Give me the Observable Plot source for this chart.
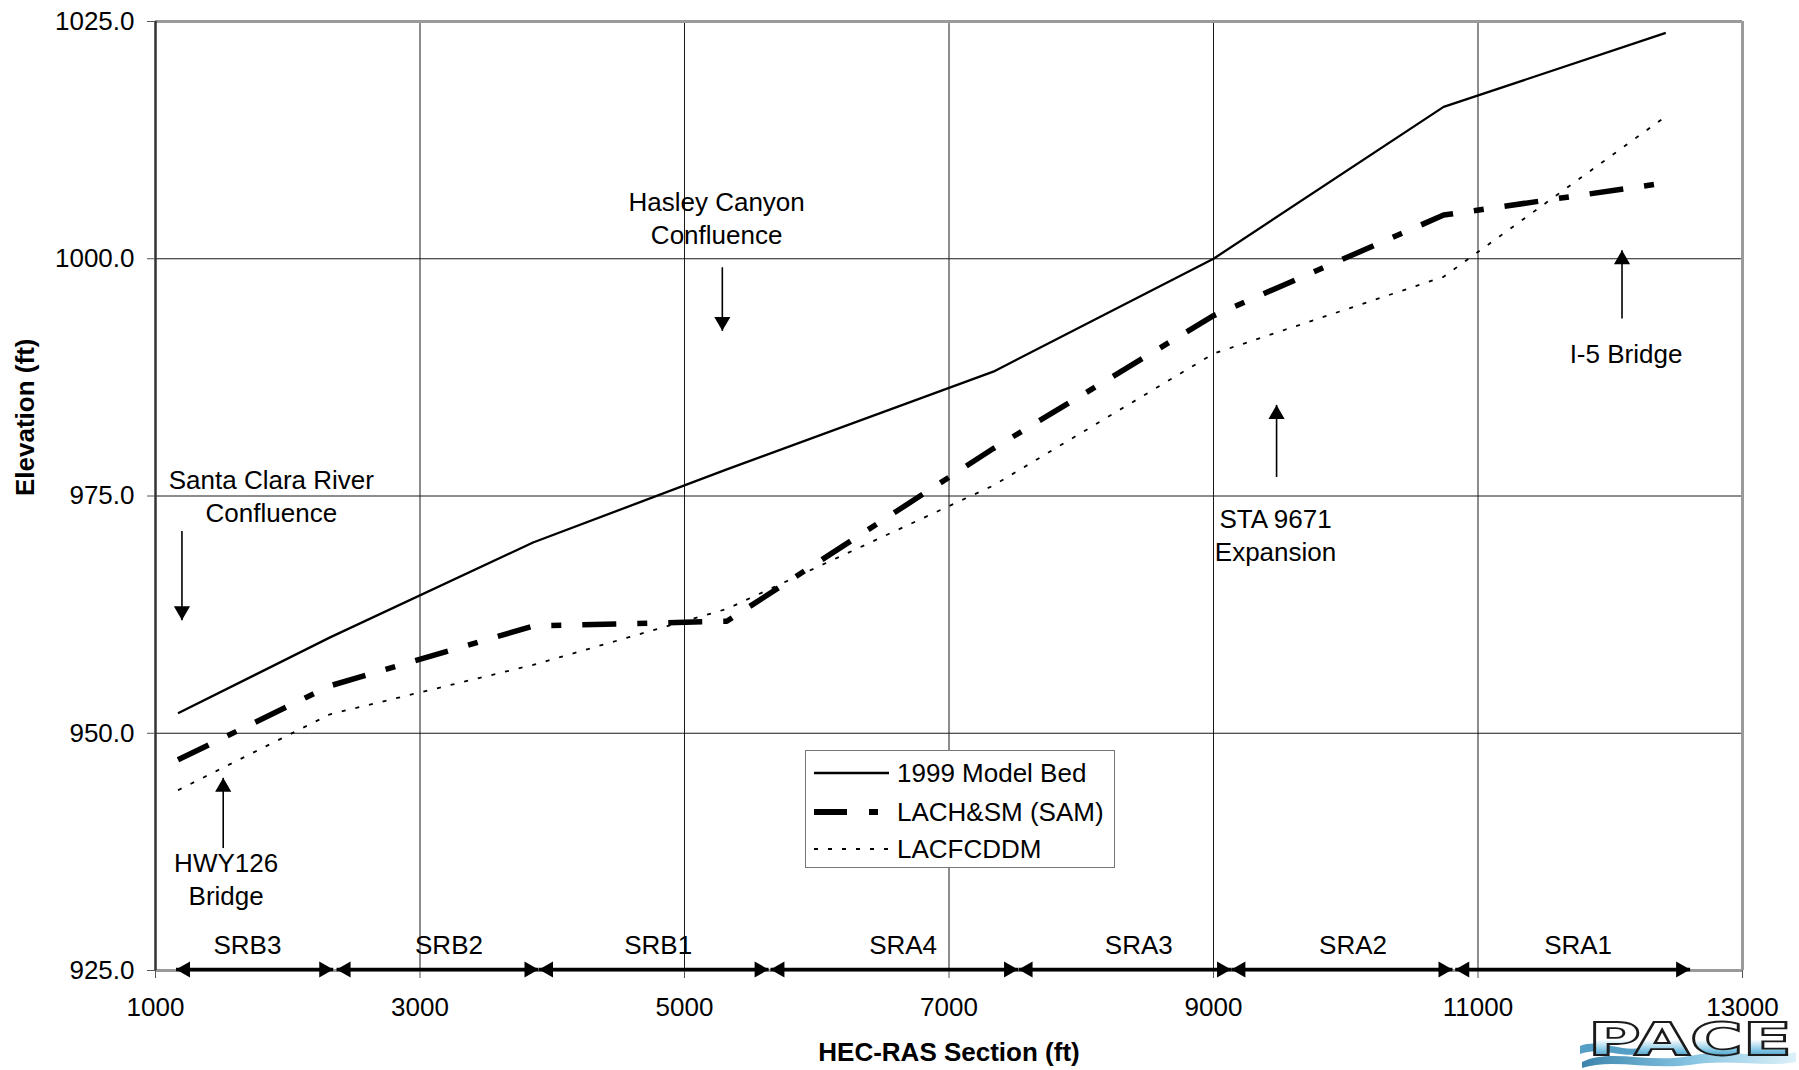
<!DOCTYPE html>
<html>
<head>
<meta charset="utf-8">
<script src="https://cdn.jsdelivr.net/npm/d3@7"></script>
<script src="https://cdn.jsdelivr.net/npm/@observablehq/plot@0.6"></script>
<style>
  html, body { margin: 0; padding: 0; background: #fff; overflow: hidden; }
  #wrap { position: relative; width: 1799px; height: 1070px; font-family: "Liberation Sans", Arial, sans-serif; }
  #legend { position: absolute; left: 805px; top: 750px; width: 308px; height: 116px; border: 1.5px solid #777; background: #fff; }
  #logo { position: absolute; left: 1578px; top: 1012px; width: 220px; height: 58px; }
</style>
</head>
<body>
<div id="wrap">
  <div id="chart"></div>
  <div id="legend"></div>
  <div id="logo"></div>
</div>
<script>
// ---------------- Data ----------------
const stations      = [1170, 2320, 3855, 5320, 7335, 9000, 10740, 12420];
const modelBed1999  = [952.1, 960.1, 970.1, 977.8, 988.1, 1000.0, 1016.0, 1023.8];
const lachsmSAM     = [947.2, 955.0, 961.3, 961.8, 980.0, 994.0, 1004.6, 1008.0];
const lacfcddm      = [944.0, 952.0, 957.2, 963.1, 976.1, 990.0, 998.1, 1015.0];
const seriesNames   = ["1999 Model Bed", "LACH&SM (SAM)", "LACFCDDM"];

const sections      = ["SRB3", "SRB2", "SRB1", "SRA4", "SRA3", "SRA2", "SRA1"];
const sectionStart  = [1155, 2369, 3900, 5650, 7526, 9135, 10828];
const sectionEnd    = [2344, 3896, 5636, 7522, 9133, 10807, 12604];
const sectionLabelX = [1695, 3219, 4801, 6653, 8435, 10055, 11757];
const sectionLabelElev = 927.6;
const sectionLineElev  = 925;

const noteLabels = ["Santa Clara River\nConfluence", "Hasley Canyon\nConfluence", "STA 9671\nExpansion", "I-5 Bridge", "HWY126\nBridge"];
const noteX      = [1876, 5243, 9469, 12119, 1534];
const noteY      = [975.15, 1004.45, 971.05, 990.15, 934.8];
const arrowX     = [1200, 5286, 9477, 12089, 1512];
const arrowFrom  = [971.3, 999.1, 977.0, 993.7, 937.9];
const arrowTo    = [961.9, 992.4, 984.6, 1000.9, 945.3];

const xTicks     = [1000, 3000, 5000, 7000, 9000, 11000, 13000];
const yTicks     = [925, 950, 975, 1000, 1025];
const xGridTicks = [3000, 5000, 7000, 9000, 11000];
const yGridTicks = [950, 975, 1000];
const xTitle = "HEC-RAS Section (ft)";
const yTitle = "Elevation (ft)";
const logoText = "PACE";

// ---------------- Styles ----------------
const seriesStyle = [
  {strokeWidth: 2.3, dash: null},
  {strokeWidth: 5.5, dash: "34,21,10,21"},
  {strokeWidth: 1.8, dash: "4,10"}
];
const seriesValues = [modelBed1999, lachsmSAM, lacfcddm];

const FONT = "Liberation Sans, Arial, sans-serif";
const FS = 26;

// tables
const lineData = seriesValues.map(vals => stations.map((x, i) => ({x, y: vals[i]})));
const secRows = sections.map((s, i) => ({name: s, x1: sectionStart[i], x2: sectionEnd[i], lx: sectionLabelX[i]}));
const noteRows = noteLabels.map((t, i) => ({text: t, x: noteX[i], y: noteY[i], ax: arrowX[i], a1: arrowFrom[i], a2: arrowTo[i]}));

const headR = 6;
const headOff = 2 * Math.sqrt(Math.PI * headR * headR / (3 * Math.sqrt(3)));

const marks = [
  Plot.gridX(xGridTicks, {stroke: "#1a1a1a", strokeOpacity: 1, strokeWidth: 1}),
  Plot.gridY(yGridTicks, {stroke: "#1a1a1a", strokeOpacity: 1, strokeWidth: 1}),
  Plot.ruleY([1025], {stroke: "#9a9a9a", strokeWidth: 3}),
  Plot.ruleY([925], {stroke: "#9a9a9a", strokeWidth: 3}),
  Plot.ruleX([13000], {stroke: "#9a9a9a", strokeWidth: 3}),
  Plot.ruleX([1000], {stroke: "#333", strokeWidth: 2.5}),
  Plot.axisX({ticks: xTicks, tickSize: 8, tickPadding: 19, label: null, tickFormat: d => String(d), stroke: "#555", fill: "#000"}),
  Plot.axisY({ticks: yTicks, tickSize: 8, tickPadding: 13, label: null, tickFormat: d => d.toFixed(1), stroke: "#555", fill: "#000"}),
];

lineData.forEach((rows, k) => {
  marks.push(Plot.line(rows, {
    x: "x", y: "y", stroke: "#000",
    strokeWidth: seriesStyle[k].strokeWidth,
    strokeDasharray: seriesStyle[k].dash || undefined,
    strokeLinecap: "butt", strokeLinejoin: "miter"
  }));
});

// section arrows
marks.push(
  Plot.link(secRows, {x1: "x1", x2: "x2", y1: () => sectionLineElev, y2: () => sectionLineElev, stroke: "#000", strokeWidth: 3.5, dy: -1}),
  Plot.dot(secRows, {x: "x1", y: () => sectionLineElev, symbol: "triangle", r: headR, rotate: -90, fill: "#000", stroke: "none", dx: headOff, dy: -1}),
  Plot.dot(secRows, {x: "x2", y: () => sectionLineElev, symbol: "triangle", r: headR, rotate: 90, fill: "#000", stroke: "none", dx: -headOff, dy: -1}),
  Plot.text(secRows, {x: "lx", y: () => sectionLabelElev, text: "name", fontSize: FS, fill: "#000"})
);

// annotation arrows and labels
const upRows = noteRows.filter(d => d.a2 > d.a1);
const downRows = noteRows.filter(d => d.a2 < d.a1);
marks.push(
  Plot.link(noteRows, {x1: "ax", x2: "ax", y1: "a1", y2: "a2", stroke: "#000", strokeWidth: 1.6}),
  Plot.dot(upRows, {x: "ax", y: "a2", symbol: "triangle", r: headR, rotate: 0, fill: "#000", stroke: "none", dy: headOff}),
  Plot.dot(downRows, {x: "ax", y: "a2", symbol: "triangle", r: headR, rotate: 180, fill: "#000", stroke: "none", dy: -headOff}),
  Plot.text(noteRows, {x: "x", y: "y", text: "text", fontSize: FS, lineHeight: 1.28, fill: "#000"})
);

// axis titles
marks.push(
  Plot.text([xTitle], {frameAnchor: "bottom", dy: 90, text: d => d, fontSize: FS, fontWeight: "bold", fill: "#000"}),
  Plot.text([yTitle], {frameAnchor: "left", dx: -130, rotate: -90, text: d => d, fontSize: FS, fontWeight: "bold", fill: "#000"})
);

const chart = Plot.plot({
  width: 1799,
  height: 1070,
  marginLeft: 155,
  marginRight: 57,
  marginTop: 21,
  marginBottom: 100,
  x: {domain: [1000, 13000]},
  y: {domain: [925, 1025]},
  style: {fontFamily: FONT, fontSize: FS + "px", color: "#000", background: "#fff", overflow: "visible"},
  marks
});
document.getElementById("chart").appendChild(chart);

// ---------------- Legend ----------------
const lg = d3.select("#legend").append("svg").attr("width", 308).attr("height", 116)
  .style("display", "block").style("font-family", FONT);
const rowY = [22, 61, 98];
const sampleEnd = [83, 72, 83];
seriesNames.forEach((name, k) => {
  lg.append("line").attr("x1", 8).attr("x2", sampleEnd[k]).attr("y1", rowY[k]).attr("y2", rowY[k])
    .attr("stroke", "#000").attr("stroke-width", k === 1 ? 6 : seriesStyle[k].strokeWidth)
    .attr("stroke-dasharray", k === 1 ? "33,22,11,22" : (seriesStyle[k].dash || null));
  lg.append("text").attr("x", 91).attr("y", rowY[k]).attr("dy", "0.35em")
    .attr("font-size", FS).attr("fill", "#000").text(name);
});

// ---------------- Logo ----------------
const logo = d3.select("#logo").append("svg").attr("width", 220).attr("height", 58).style("display", "block");
const defs = logo.append("defs");
const g1 = defs.append("linearGradient").attr("id", "pfill").attr("x1", 0).attr("y1", 0).attr("x2", 0).attr("y2", 1);
g1.append("stop").attr("offset", "0%").attr("stop-color", "#ffffff");
g1.append("stop").attr("offset", "50%").attr("stop-color", "#ffffff");
g1.append("stop").attr("offset", "72%").attr("stop-color", "#7cc3e3");
g1.append("stop").attr("offset", "100%").attr("stop-color", "#0f5f8c");
const g2 = defs.append("linearGradient").attr("id", "swoosh").attr("x1", 0).attr("y1", 0).attr("x2", 1).attr("y2", 0);
g2.append("stop").attr("offset", "0%").attr("stop-color", "#1a6f9e");
g2.append("stop").attr("offset", "50%").attr("stop-color", "#6fb9dc");
g2.append("stop").attr("offset", "100%").attr("stop-color", "#d7eef8");
logo.append("path").attr("d", "M4,50 C32,36 72,52 112,44 C152,36 187,48 218,40 L218,50 C187,56 152,46 112,53 C72,58 32,46 4,56 Z")
  .attr("fill", "url(#swoosh)").attr("opacity", 0.85);
logo.append("path").attr("d", "M2,34 C22,26 42,40 62,36 L62,42 C42,46 22,34 2,42 Z")
  .attr("fill", "#2a86b8").attr("opacity", 0.8);
logo.append("text").attr("x", 10).attr("y", 43).attr("font-family", "DejaVu Sans, sans-serif")
  .attr("font-weight", "bold").attr("font-size", 44).attr("textLength", 204).attr("lengthAdjust", "spacingAndGlyphs")
  .attr("fill", "url(#pfill)").attr("stroke", "#1b1b1b").attr("stroke-width", 1.8).text(logoText);
</script>
</body>
</html>
